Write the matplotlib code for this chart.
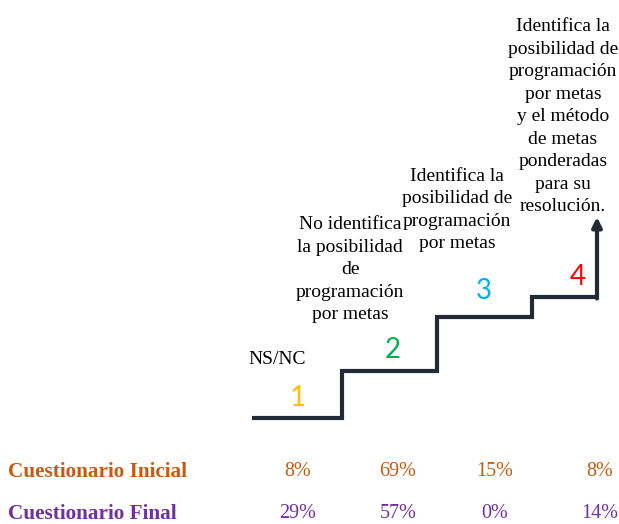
import matplotlib.pyplot as plt

# staircase levels (step 1..4), drawn left to right
levels = ["1", "2", "3", "4"]
level_colors = ["#FFC000", "#00B050", "#00B0F0", "#FF0000"]
descriptions = [
    "NS/NC",
    "No identifica\nla posibilidad\nde\nprogramación\npor metas",
    "Identifica la\nposibilidad de\nprogramación\npor metas",
    "Identifica la\nposibilidad de\nprogramación\npor metas\ny el método\nde metas\nponderadas\npara su\nresolución.",
]

rows = ["Cuestionario Inicial", "Cuestionario Final"]
inicial = [8, 69, 15, 8]
final = [29, 57, 0, 14]
row_colors = ["#C55A11", "#7030A0"]

# layout (pixel space of the 619x524 canvas)
step_edges = [252, 342, 437, 532, 597]
step_tops = [418, 371, 317, 297]
arrow_tip = 217
num_pos = [(298, 398), (393, 350), (484, 291), (578, 277)]
desc_pos = [(277, 364), (350, 319), (457, 248), (563, 211)]
pct_x = [298, 398, 495, 600]
row_y = [472, 514]

fig = plt.figure(figsize=(6.19, 5.24), dpi=100)
ax = fig.add_axes([0, 0, 1, 1])
ax.set_xlim(0, 619)
ax.set_ylim(524, 0)
ax.axis("off")

line_color = "#222A35"
xs, ys = [], []
for i, top in enumerate(step_tops):
    xs += [step_edges[i], step_edges[i + 1]]
    ys += [top, top]
ax.plot(xs, ys, color=line_color, lw=3, solid_joinstyle="miter", solid_capstyle="butt")
ax.annotate("", xy=(step_edges[-1], arrow_tip), xytext=(step_edges[-1], step_tops[-1] + 1.5),
            arrowprops=dict(arrowstyle="-|>", color=line_color, lw=3,
                            mutation_scale=14, shrinkA=0, shrinkB=0))

for lab, col, (x, y) in zip(levels, level_colors, num_pos):
    ax.text(x, y, lab, color=col, fontsize=20, family="Lato",
            ha="center", va="center")

for txt, (x, y) in zip(descriptions, desc_pos):
    ax.text(x, y, txt, fontsize=14, family="Liberation Serif", ha="center",
            va="baseline", ma="center", linespacing=1.42)

for name, vals, col, y in zip(rows, [inicial, final], row_colors, row_y):
    ax.text(8, y, name, color=col, fontsize=15.3, fontweight="bold",
            family="Liberation Serif", ha="left", va="center")
    for x, v in zip(pct_x, vals):
        ax.text(x, y, f"{v}%", color=col, fontsize=14.5, family="Liberation Serif",
                ha="center", va="center")

fig.savefig("out.png", dpi=100)
